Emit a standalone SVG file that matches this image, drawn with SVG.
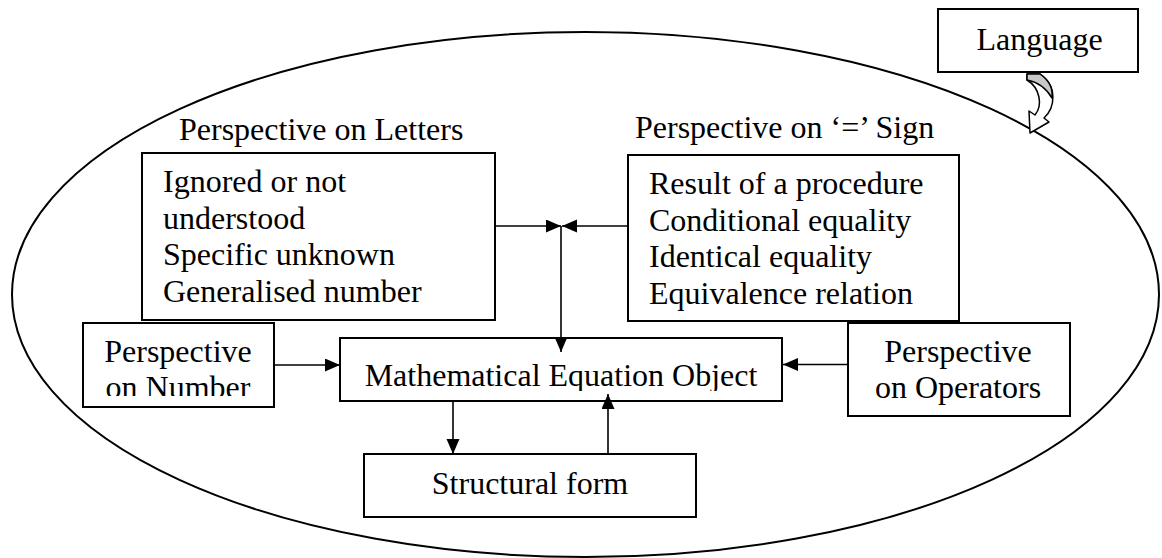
<svg xmlns="http://www.w3.org/2000/svg" width="1162" height="558" viewBox="0 0 1162 558">
<style>
.box{fill:#fff;stroke:#000;stroke-width:2}
.t{font-family:"Liberation Serif","Times New Roman",serif;font-size:32px;fill:#000}
.c{text-anchor:middle}
.ln{stroke:#000;stroke-width:1.6;fill:none}
</style>
<defs>
<marker id="ah" markerUnits="userSpaceOnUse" markerWidth="16" markerHeight="14" refX="15" refY="6.5" orient="auto">
<path d="M0,0 L15,6.5 L0,13 Z" fill="#000"/>
</marker>
<clipPath id="clipNum"><rect x="84" y="324" width="189" height="72"/></clipPath>
<clipPath id="clipMath"><rect x="341" y="339" width="440" height="52"/></clipPath>
</defs>
<rect width="1162" height="558" fill="#fff"/>
<g id="boundary">
<ellipse cx="585.5" cy="294.5" rx="573.5" ry="262.5" fill="none" stroke="#000" stroke-width="2"/>
</g>
<g id="language">
<rect class="box" x="938" y="9" width="200" height="63"/>
<text class="t c" x="1039.5" y="50">Language</text>
</g>
<g id="language-arrow">
<path d="M1040,74 C1058,86 1055,108 1044,118 L1049,122 L1030,133 L1029,111 L1035,115 C1043,105 1040,88 1027,80 L1027,74 Z" fill="#fff" stroke="#000" stroke-width="1.5" stroke-linejoin="round"/>
<path d="M1027,74 L1040,74 C1050,81 1053,90 1052,98 C1046,88 1038,82 1027,80 Z" fill="#c8c8c8" stroke="#000" stroke-width="1.5" stroke-linejoin="round"/>
</g>
<g id="letters">
<text class="t" x="179" y="140">Perspective on Letters</text>
<rect class="box" x="142" y="153" width="353" height="167"/>
<text class="t" x="163" y="192">Ignored or not</text>
<text class="t" x="163" y="228.7">understood</text>
<text class="t" x="163" y="265.4">Specific unknown</text>
<text class="t" x="163" y="302">Generalised number</text>
</g>
<g id="equals">
<text class="t" x="635" y="138">Perspective on ‘=’ Sign</text>
<rect class="box" x="628" y="155" width="331" height="166"/>
<text class="t" x="649" y="194">Result of a procedure</text>
<text class="t" x="649" y="230.7">Conditional equality</text>
<text class="t" x="649" y="267.4">Identical equality</text>
<text class="t" x="649" y="304">Equivalence relation</text>
</g>
<g id="number">
<rect class="box" x="83" y="323" width="191" height="84"/>
<g clip-path="url(#clipNum)">
<text class="t c" x="178" y="362">Perspective</text>
<text class="t c" x="178" y="398">on Number</text>
</g>
</g>
<g id="math">
<rect class="box" x="340" y="338" width="442" height="63"/>
<g clip-path="url(#clipMath)">
<text class="t c" x="561" y="386">Mathematical Equation Object</text>
</g>
</g>
<g id="operators">
<rect class="box" x="848" y="323" width="222" height="93"/>
<text class="t c" x="958" y="362">Perspective</text>
<text class="t c" x="958" y="397.5">on Operators</text>
</g>
<g id="structural">
<rect class="box" x="364" y="454" width="332" height="63"/>
<text class="t c" x="530" y="493.5">Structural form</text>
</g>
<g id="connectors">
<line class="ln" x1="495" y1="226" x2="561" y2="226" marker-end="url(#ah)"/>
<line class="ln" x1="628" y1="226" x2="562" y2="226" marker-end="url(#ah)"/>
<line class="ln" x1="561" y1="226" x2="561" y2="352" marker-end="url(#ah)"/>
<line class="ln" x1="274" y1="365" x2="340" y2="365" marker-end="url(#ah)"/>
<line class="ln" x1="848" y1="364.5" x2="783" y2="364.5" marker-end="url(#ah)"/>
<line class="ln" x1="453" y1="401" x2="453" y2="454" marker-end="url(#ah)"/>
<line class="ln" x1="608" y1="454" x2="608" y2="394" marker-end="url(#ah)"/>
</g>
</svg>
